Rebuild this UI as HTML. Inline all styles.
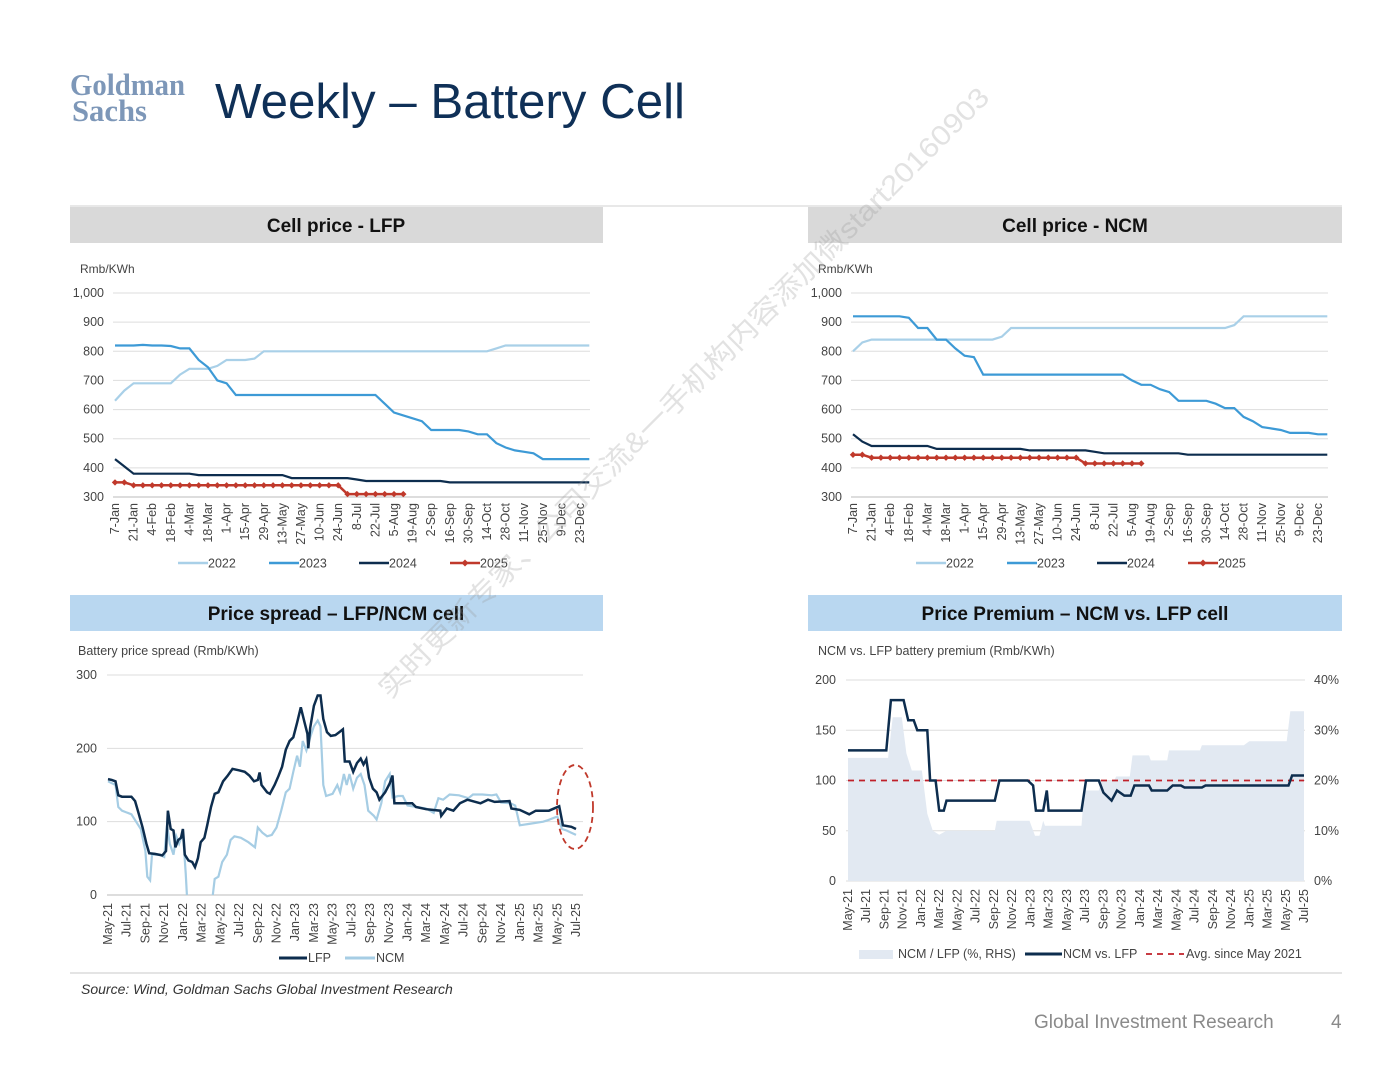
<!DOCTYPE html>
<html><head><meta charset="utf-8"><style>
html,body{margin:0;padding:0;background:#fff;}
body{width:1398px;height:1080px;overflow:hidden;position:relative;font-family:"Liberation Sans",sans-serif;}
svg{position:absolute;left:0;top:0;}
text{font-family:"Liberation Sans","Noto Sans CJK SC",sans-serif;}
text.serif{font-family:"Liberation Serif",serif;}
</style></head><body>
<svg id="s" width="1398" height="1080" viewBox="0 0 1398 1080" xmlns="http://www.w3.org/2000/svg">
<g font-weight="bold" fill="#7d97b8">
<text class="serif" x="70" y="95" font-size="31" textLength="115" lengthAdjust="spacingAndGlyphs">Goldman</text>
<text class="serif" x="72" y="121" font-size="31" textLength="75" lengthAdjust="spacingAndGlyphs">Sachs</text></g>
<text x="215" y="118" font-size="49" fill="#0f3057" textLength="470" lengthAdjust="spacingAndGlyphs">Weekly – Battery Cell</text>
<line x1="70" y1="206" x2="1342" y2="206" stroke="#d0d0d0"/>
<rect x="70" y="207" width="533" height="36" fill="#d9d9d9"/>
<text x="336" y="232" font-size="19" font-weight="bold" text-anchor="middle" fill="#111">Cell price - LFP</text>
<rect x="808" y="207" width="534" height="36" fill="#d9d9d9"/>
<text x="1075" y="232" font-size="19" font-weight="bold" text-anchor="middle" fill="#111">Cell price - NCM</text>
<rect x="70" y="595" width="533" height="36" fill="#b9d7f0"/>
<text x="336" y="620" font-size="19" font-weight="bold" text-anchor="middle" fill="#111">Price spread – LFP/NCM cell</text>
<rect x="808" y="595" width="534" height="36" fill="#b9d7f0"/>
<text x="1075" y="620" font-size="19" font-weight="bold" text-anchor="middle" fill="#111">Price Premium – NCM vs. LFP cell</text>
<line x1="70" y1="973" x2="1342" y2="973" stroke="#c8c8c8"/>
<text x="81" y="994" font-size="14" font-style="italic" fill="#333">Source: Wind, Goldman Sachs Global Investment Research</text>
<text x="1034" y="1028" font-size="19" fill="#8a8a8a">Global Investment Research</text>
<text x="1331" y="1028" font-size="19" fill="#8a8a8a">4</text>
<g id="charts"></g>
<text x="0" y="0" font-size="28" fill="rgba(150,150,150,0.28)" textLength="850" lengthAdjust="spacingAndGlyphs" transform="translate(390,700) rotate(-45)">实时更新专家、公司交流&amp;一手机构内容添加微start20160903</text>
</svg>
<script>
const weekLabels=["7-Jan","21-Jan","4-Feb","18-Feb","4-Mar","18-Mar","1-Apr","15-Apr","29-Apr","13-May","27-May","10-Jun","24-Jun","8-Jul","22-Jul","5-Aug","19-Aug","2-Sep","16-Sep","30-Sep","14-Oct","28-Oct","11-Nov","25-Nov","9-Dec","23-Dec"];
const priceTicks=[300,400,500,600,700,800,900,1000];
const lfp2022=[630,665,690,690,690,690,690,720,740,740,740,750,770,770,770,775,800,800,800,800,800,800,800,800,800,800,800,800,800,800,800,800,800,800,800,800,800,800,800,800,800,810,820,820,820,820,820,820,820,820,820,820];
const lfp2023=[820,820,820,822,820,820,818,810,810,770,745,700,690,650,650,650,650,650,650,650,650,650,650,650,650,650,650,650,650,620,590,580,570,560,530,530,530,530,525,515,515,485,470,460,455,450,430,430,430,430,430,430];
const lfp2024=[430,405,380,380,380,380,380,380,380,375,375,375,375,375,375,375,375,375,375,365,365,365,365,365,365,365,360,355,355,355,355,355,355,355,355,355,350,350,350,350,350,350,350,350,350,350,350,350,350,350,350,350];
const lfp2025=[350,350,340,340,340,340,340,340,340,340,340,340,340,340,340,340,340,340,340,340,340,340,340,340,340,310,310,310,310,310,310,310];
const ncm2022=[800,830,840,840,840,840,840,840,840,840,840,840,840,840,840,840,850,880,880,880,880,880,880,880,880,880,880,880,880,880,880,880,880,880,880,880,880,880,880,880,880,890,920,920,920,920,920,920,920,920,920,920];
const ncm2023=[920,920,920,920,920,920,915,880,880,840,840,810,785,780,720,720,720,720,720,720,720,720,720,720,720,720,720,720,720,720,700,685,685,670,660,630,630,630,630,620,605,605,575,560,540,535,530,520,520,520,515,515];
const ncm2024=[515,490,475,475,475,475,475,475,475,465,465,465,465,465,465,465,465,465,465,460,460,460,460,460,460,460,455,450,450,450,450,450,450,450,450,450,445,445,445,445,445,445,445,445,445,445,445,445,445,445,445,445];
const ncm2025=[445,445,435,435,435,435,435,435,435,435,435,435,435,435,435,435,435,435,435,435,435,435,435,435,435,415,415,415,415,415,415,415];

const monthLabels=["May-21","Jul-21","Sep-21","Nov-21","Jan-22","Mar-22","May-22","Jul-22","Sep-22","Nov-22","Jan-23","Mar-23","May-23","Jul-23","Sep-23","Nov-23","Jan-24","Mar-24","May-24","Jul-24","Sep-24","Nov-24","Jan-25","Mar-25","May-25","Jul-25"];
const spreadTicks=[0,100,200,300];
const spreadLfpMonth=[0,0.4,0.8,1.1,1.5,2.5,2.9,3.3,3.7,4.1,4.4,5,5.8,6.2,6.4,6.7,7,7.2,7.5,7.8,8,8.2,8.6,9,9.3,9.6,9.9,10.3,10.6,11,11.4,11.8,12.3,12.8,13.3,14,14.6,15.1,15.6,16,16.2,16.4,17,17.3,17.8,18.2,18.6,19,19.4,19.8,20.2,20.6,21,21.3,21.4,21.6,22,22.4,22.7,23,23.4,23.8,24.3,24.7,25.1,25.3,25.8,26.2,26.6,27,27.3,27.6,27.9,28.3,28.7,29,29.6,30.1,30.4,30.6,31.1,32.5,32.9,34,35.5,35.6,36.2,36.9,37.6,38.4,39.8,40.6,41.3,42.9,43.1,44,45,45.7,47.1,48.2,48.6,49.5,50];
const spreadLfpValue=[158,157,155,136,134,134,128,110,92,70,57,56,54,60,115,90,88,65,75,78,90,55,47,45,38,50,72,78,95,120,138,140,155,163,172,170,168,163,155,157,167,150,140,138,150,162,175,198,210,215,235,256,235,220,200,228,258,272,272,240,222,217,218,222,226,182,182,168,180,186,178,185,160,145,140,130,140,152,163,125,125,125,120,117,115,108,118,115,125,130,125,130,127,128,118,116,110,115,115,121,95,93,90];
const spreadNcmMonth=[0,0.8,1.1,1.5,2.5,3,3.5,4,4.2,4.5,4.7,5.5,6,6.3,6.6,7,7.3,7.6,8,8.3,8.6,11,11.2,11.4,11.8,12.2,12.7,13.1,13.5,14.2,15,15.7,16,16.5,17,17.5,18,18.5,19,19.4,19.8,20.2,20.5,20.8,21.2,21.6,22,22.4,22.7,23,23.3,24,24.5,24.8,25.2,25.5,25.8,26.2,26.6,27,27.4,27.8,28.4,28.7,29.2,29.6,30.1,30.4,31,31.5,32,33,34,34.8,35.3,35.8,36.5,37.5,38.5,39,40,41,41.5,42,43,43.5,44,45,46.5,47,48,48.5,49,49.5,50];
const spreadNcmValue=[155,150,120,115,110,100,90,60,25,20,55,55,52,95,70,55,80,70,85,30,-40,-40,0,22,25,45,55,75,80,78,72,65,92,85,80,82,92,115,140,145,168,190,175,210,197,215,230,238,230,150,135,138,150,140,165,150,165,145,160,165,150,115,108,103,125,155,165,133,135,135,122,120,118,112,132,130,137,136,132,137,137,136,137,126,125,122,95,97,100,102,107,90,88,85,82];

const premTicks=[0,50,100,150,200];
const premPctTicks=["0%","10%","20%","30%","40%"];
const premLineMonth=[0,4.2,4.7,6.1,6.6,7.2,7.6,8.7,9.0,9.6,10.0,10.5,10.8,16.1,16.6,19.7,20.3,20.6,21.4,21.8,22,25.6,26.1,27.5,28,28.9,29.5,30.3,31,31.4,33,33.3,35,35.6,36.5,36.9,38.8,39.2,48.3,48.7,50];
const premLineValue=[130,130,180,180,160,160,150,150,100,100,70,70,80,80,100,100,95,70,70,90,70,70,100,100,88,80,90,85,85,95,95,90,90,95,95,93,93,95,95,105,105];
const premAreaMonth=[0,4.4,4.9,5.9,6.4,7,8.1,8.7,9.3,10,10.8,16.1,16.3,19.9,20.5,21,21.4,21.6,25.6,25.9,27.5,27.8,29.2,29.4,30.9,31.2,33,33.2,35,35.2,38.6,38.8,43.4,44,48.1,48.5,50];
const premAreaPct=[24.5,24.5,32.6,32.6,25.4,22,22,13.4,10,9.2,10,10,12,12,9,9,12,11,11,18,18,20,20,20.8,20.8,25,25,24,24,26,26,27,27,27.8,27.8,33.8,33.8];
const premAvg=100;

const NS="http://www.w3.org/2000/svg";
const root=document.getElementById('charts');
function el(tag,attrs,parent){const e=document.createElementNS(NS,tag);for(const k in attrs)e.setAttribute(k,attrs[k]);(parent||root).appendChild(e);return e;}
function path(xs,ys){return xs.map((x,i)=>(i?'L':'M')+x.toFixed(1)+','+ys[i].toFixed(1)).join('');}

function priceChart(ox,data,names){
  const g=el('g',{});
  
  
  const x0=115+ox, step=9.3;
  const X=i=>x0+i*step;
  const Y=v=>497-(v-300)*(204/700);
  let t=el('text',{x:80+ox,y:273,'font-size':12,fill:'#444'},g);t.textContent='Rmb/KWh';
  
  priceTicks.forEach(v=>{
    const l=el('line',{x1:113+ox,x2:590+ox,y1:Y(v),y2:Y(v),stroke:v===300?'#bbb':'#ddd','stroke-width':1},g);
    
    const tt=el('text',{x:104+ox,y:Y(v)+4,'font-size':12.5,fill:'#444','text-anchor':'end'},g);tt.textContent=v.toLocaleString('en-US');
    
  });
  weekLabels.forEach((lb,i)=>{
    const x=X(i*2)+4;
    const tt=el('text',{x:x,y:503,'font-size':12.5,fill:'#444','text-anchor':'end',transform:`rotate(-90 ${x} 503)`},g);tt.textContent=lb;
    
  });
  const cols=['#a9d0e8','#3d9ad6','#0d2d4e','#c0392b'];
  data.forEach((arr,k)=>{
    const p=el('path',{d:path(arr.map((v,i)=>X(i)),arr.map(Y)),fill:'none',stroke:cols[k],'stroke-width':k===3?2.5:2.2},g);
    
    if(k===3)arr.forEach((v,i)=>{const s=3.2;const d=el('path',{d:`M${X(i)},${Y(v)-s}L${X(i)+s},${Y(v)}L${X(i)},${Y(v)+s}L${X(i)-s},${Y(v)}Z`,fill:cols[3]},g);
      });
  });
  const lx=[178,269,359,450];
  names.years.forEach((y,k)=>{
    const lg=el('g',{},g);
    
    el('line',{x1:lx[k]+ox,x2:lx[k]+30+ox,y1:563,y2:563,stroke:cols[k],'stroke-width':2.5},lg);
    if(k===3)el('path',{d:`M${lx[k]+15+ox},559.5L${lx[k]+18.5+ox},563L${lx[k]+15+ox},566.5L${lx[k]+11.5+ox},563Z`,fill:cols[3]},lg);
    const tt=el('text',{x:lx[k]+30+ox,y:567.5,'font-size':12.5,fill:'#444'},lg);tt.textContent=y;
  });
}
priceChart(0,[lfp2022,lfp2023,lfp2024,lfp2025],{chart:'lfp-price-chart',years:['2022','2023','2024','2025']});
priceChart(738,[ncm2022,ncm2023,ncm2024,ncm2025],{chart:'ncm-price-chart',years:['2022','2023','2024','2025']});

(function(){
  const g=el('g',{});
  
  const X=m=>108+m*(468/50);
  const Y=v=>895-v*(220/300);
  let t=el('text',{x:78,y:655,'font-size':12.5,fill:'#444'},g);t.textContent='Battery price spread (Rmb/KWh)';
  
  spreadTicks.forEach(v=>{
    const l=el('line',{x1:107,x2:583,y1:Y(v),y2:Y(v),stroke:v===0?'#bbb':'#ddd'},g);
    
    const tt=el('text',{x:97,y:Y(v)+4,'font-size':12.5,fill:'#444','text-anchor':'end'},g);tt.textContent=v;
    
  });
  monthLabels.forEach((lb,i)=>{
    const x=X(i*2)+4;
    const tt=el('text',{x:x,y:903,'font-size':12.5,fill:'#444','text-anchor':'end',transform:`rotate(-90 ${x} 903)`},g);tt.textContent=lb;
    
  });
  const cp=el('clipPath',{id:'spclip'},g);el('rect',{x:100,y:660,width:500,height:235},cp);
  const n=el('path',{d:path(spreadNcmMonth.map(X),spreadNcmValue.map(Y)),fill:'none',stroke:'#a6cde4','stroke-width':2.2,'clip-path':'url(#spclip)'},g);
  
  const l=el('path',{d:path(spreadLfpMonth.map(X),spreadLfpValue.map(Y)),fill:'none',stroke:'#0d2d4e','stroke-width':2.5,'clip-path':'url(#spclip)'},g);
  
  const e=el('ellipse',{cx:575,cy:807,rx:18,ry:42,fill:'none',stroke:'#c0392b','stroke-width':1.8,'stroke-dasharray':'6,4'},g);
  
  const lg1=el('g',{},g);
  el('line',{x1:279,x2:307,y1:958,y2:958,stroke:'#0d2d4e','stroke-width':3},lg1);
  t=el('text',{x:308,y:962,'font-size':12.5,fill:'#444'},lg1);t.textContent='LFP';
  const lg2=el('g',{},g);
  el('line',{x1:345,x2:375,y1:958,y2:958,stroke:'#a6cde4','stroke-width':3},lg2);
  t=el('text',{x:376,y:962,'font-size':12.5,fill:'#444'},lg2);t.textContent='NCM';
})();

(function(){
  const g=el('g',{});
  
  const X=m=>848+m*(456/50);
  const Y=v=>881-v*(201/200);
  const YP=p=>Y(p*5);
  let t=el('text',{x:818,y:655,'font-size':12.5,fill:'#444'},g);t.textContent='NCM vs. LFP battery premium (Rmb/KWh)';
  
  premTicks.forEach((v,i)=>{
    const l=el('line',{x1:846,x2:1305,y1:Y(v),y2:Y(v),stroke:'#ddd'},g);
    
    let tt=el('text',{x:836,y:Y(v)+4,'font-size':12.5,fill:'#444','text-anchor':'end'},g);tt.textContent=v;
    
    tt=el('text',{x:1314,y:Y(v)+4,'font-size':12.5,fill:'#444'},g);tt.textContent=premPctTicks[i];
    
  });
  const xs=premAreaMonth.map(X), ys=premAreaPct.map(YP);
  let d='M'+xs[0]+','+Y(0);
  for(let i=0;i<xs.length;i++){d+='L'+xs[i].toFixed(1)+','+ys[i].toFixed(1);}
  d+='L'+xs[xs.length-1]+','+Y(0)+'Z';
  const a=el('path',{d:d,fill:'#e2e9f2'},g);
  
  const av=el('line',{x1:X(0),x2:X(50),y1:Y(premAvg),y2:Y(premAvg),stroke:'#c0202a','stroke-width':1.8,'stroke-dasharray':'6,5'},g);
  
  const l=el('path',{d:path(premLineMonth.map(X),premLineValue.map(Y)),fill:'none',stroke:'#0d2d4e','stroke-width':2.5},g);
  
  monthLabels.forEach((lb,i)=>{
    const x=X(i*2)+4;
    const tt=el('text',{x:x,y:889,'font-size':12.5,fill:'#444','text-anchor':'end',transform:`rotate(-90 ${x} 889)`},g);tt.textContent=lb;
    
  });
  const lg1=el('g',{},g);
  el('rect',{x:859,y:950,width:34,height:9,fill:'#e2e9f2'},lg1);
  t=el('text',{x:898,y:958,'font-size':12.5,fill:'#444'},lg1);t.textContent='NCM / LFP (%, RHS)';
  const lg2=el('g',{},g);
  el('line',{x1:1025,x2:1062,y1:954,y2:954,stroke:'#0d2d4e','stroke-width':3},lg2);
  t=el('text',{x:1063,y:958,'font-size':12.5,fill:'#444'},lg2);t.textContent='NCM vs. LFP';
  const lg3=el('g',{},g);
  el('line',{x1:1146,x2:1184,y1:954,y2:954,stroke:'#c0202a','stroke-width':1.8,'stroke-dasharray':'6,5'},lg3);
  t=el('text',{x:1186,y:958,'font-size':12.5,fill:'#444'},lg3);t.textContent='Avg. since May 2021';
})();
</script>
</body></html>
